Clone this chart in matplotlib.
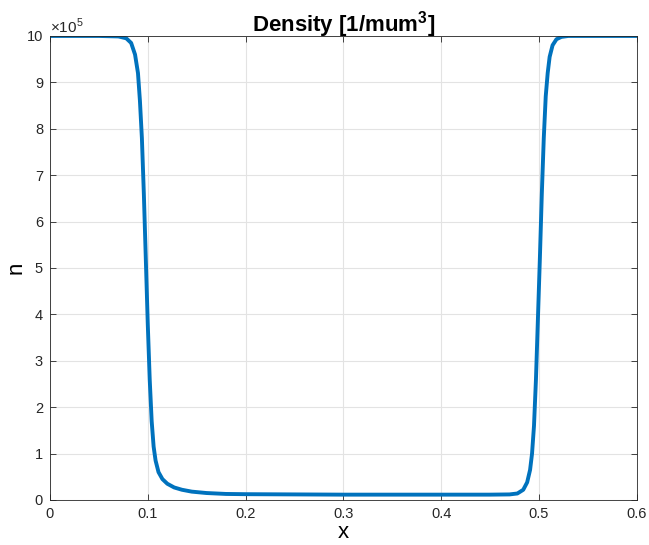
import matplotlib
matplotlib.use("Agg")
import matplotlib.pyplot as plt
from matplotlib.ticker import FuncFormatter

plt.rcParams["font.family"] = ["Liberation Sans", "DejaVu Sans"]
plt.rcParams["mathtext.fontset"] = "custom"
plt.rcParams["mathtext.rm"] = "Liberation Sans"
plt.rcParams["mathtext.bf"] = "Liberation Sans:bold"

# density profile (x, n in units of 1e5 / mum^3)
x_vals = [0.0, 0.05, 0.07, 0.078, 0.083, 0.087, 0.090, 0.092, 0.094, 0.096,
          0.098, 0.100, 0.102, 0.104, 0.106, 0.108, 0.111, 0.115, 0.120,
          0.127, 0.135, 0.145, 0.16, 0.18, 0.20, 0.25, 0.30, 0.35, 0.40,
          0.45, 0.47, 0.478, 0.484, 0.488, 0.491, 0.493, 0.495, 0.497,
          0.499, 0.501, 0.503, 0.505, 0.507, 0.509, 0.511, 0.514, 0.518,
          0.523, 0.53, 0.55, 0.6]
n_vals = [10.0, 10.0, 9.99, 9.95, 9.85, 9.6, 9.2, 8.6, 7.8, 6.6,
          5.2, 3.8, 2.6, 1.7, 1.15, 0.85, 0.6, 0.45, 0.35,
          0.27, 0.22, 0.18, 0.15, 0.13, 0.125, 0.12, 0.115, 0.115, 0.115,
          0.115, 0.12, 0.14, 0.22, 0.38, 0.65, 1.0, 1.6, 2.6,
          3.9, 5.2, 6.6, 7.8, 8.7, 9.2, 9.55, 9.8, 9.93,
          9.98, 10.0, 10.0, 10.0]
x_ticks = [0, 0.1, 0.2, 0.3, 0.4, 0.5, 0.6]
y_ticks = list(range(0, 11))

fig = plt.figure(figsize=(6.49, 5.45), dpi=100)
ax = fig.add_axes([0.077, 0.0826, 0.904, 0.8514])

ax.plot(x_vals, [v * 1e5 for v in n_vals], color="#0072BD", linewidth=2.8,
        solid_joinstyle="round")

ax.set_xlim(0, 0.6)
ax.set_ylim(0, 10e5)
ax.set_xticks(x_ticks)
ax.set_yticks([t * 1e5 for t in y_ticks])
ax.xaxis.set_major_formatter(FuncFormatter(lambda v, p: "0" if v == 0 else f"{v:g}"))
ax.yaxis.set_major_formatter(FuncFormatter(lambda v, p: f"{v / 1e5:.0f}"))

ax.grid(True, color="#e3e3e3", linewidth=0.8)
ax.set_axisbelow(True)
for s in ax.spines.values():
    s.set_color("#262626")
    s.set_linewidth(0.6)
ax.tick_params(direction="in", length=4, width=0.6, colors="#262626",
               labelsize=10.5, top=True, right=True, pad=5)
ax.tick_params(labeltop=False, labelright=False)

ax.text(0.0, 1.0, r"$\times$10$^5$", transform=ax.transAxes,
        fontsize=11, color="#262626", ha="left", va="bottom")

ax.set_title(r"Density [1/mum$^\mathbf{3}$]", fontsize=16, fontweight="bold", pad=3)
ax.set_xlabel("x", fontsize=16, labelpad=1)
ax.set_ylabel("n", fontsize=16, labelpad=0)

fig.savefig("out.png", dpi=100)
